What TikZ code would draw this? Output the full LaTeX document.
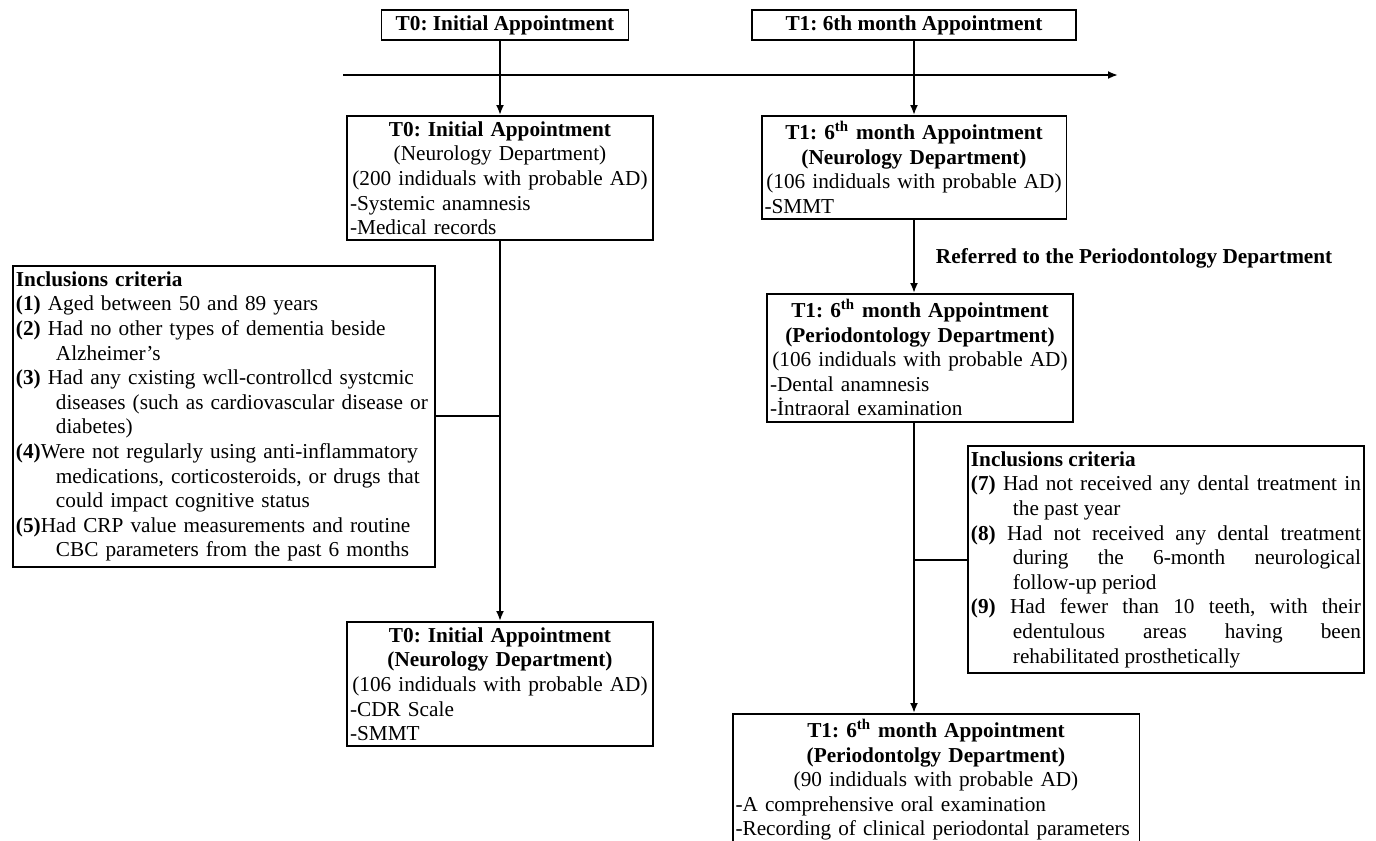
\documentclass[tikz,border=0pt]{standalone}
\usepackage{fontspec}
\setmainfont{Liberation Serif}
\usetikzlibrary{arrows.meta}
\newcommand{\ctrrow}[1]{\makebox[\linewidth][c]{#1}\par}
\newcommand{\lftrow}[1]{\makebox[\linewidth][l]{#1}\par}
\newcommand{\critnum}[1]{\par\hangindent=0.8cm\hangafter=1\noindent\textbf{(#1)}}
\newcommand{\critnumj}[1]{\par\hangindent=0.84cm\hangafter=1\noindent\textbf{(#1)}}
\begin{document}
\frenchspacing
\begin{tikzpicture}
    [
        x=0.02cm, y=-0.02cm,
        font=\fontsize{12.1}{14}\selectfont,
        line width=1.1pt,
        >={Latex[length=0.2cm,width=0.16cm]},
        stagebox/.style={rectangle, draw, font=\fontsize{12.1}{14}\selectfont\bfseries, minimum height=0.6cm, inner sep=0.06cm},
        visitbox/.style={rectangle, draw, anchor=north, inner xsep=0.06cm, inner ysep=0.11cm},
        critbox/.style={rectangle, draw, anchor=north west, inner xsep=0.06cm, inner ysep=0.11cm},
    ]
    \useasboundingbox (0,0) rectangle (1376,840);
    \node (top0) at (505,25) [stagebox, minimum width=4.94cm] {T0: Initial Appointment};
    \node (top1) at (914,25) [stagebox, minimum width=6.48cm] {T1: 6th month Appointment};
    \coordinate (tl0) at (343,75);
    \coordinate (tl1) at (1118,75);
    \node (neuroA) at (500,115) [visitbox, text width=6.0cm]
        {\ctrrow{\textbf{T0: Initial Appointment}}
         \ctrrow{(Neurology Department)}
         \ctrrow{(200 indiduals with probable AD)}
         \lftrow{-Systemic anamnesis}
         \lftrow{-Medical records}};
    \node (neuroB) at (914,115) [visitbox, text width=5.98cm]
        {\ctrrow{\textbf{T1: 6\textsuperscript{th} month Appointment}}
         \ctrrow{\textbf{(Neurology Department)}}
         \ctrrow{(106 indiduals with probable AD)}
         \lftrow{-SMMT}};
    \node (refer) at (935,258) [anchor=west, inner sep=0pt, font=\fontsize{12.1}{14}\selectfont\bfseries] {Referred to the Periodontology Department};
    \node (perioA) at (920,293) [visitbox, text width=6.0cm]
        {\ctrrow{\textbf{T1: 6\textsuperscript{th} month Appointment}}
         \ctrrow{\textbf{(Periodontology Department)}}
         \ctrrow{(106 indiduals with probable AD)}
         \lftrow{-Dental anamnesis}
         \lftrow{-İntraoral examination}};
    \node (critL) at (12,265) [critbox, text width=8.32cm]
        {\raggedright
         \textbf{Inclusions criteria}\par
         \critnum{1} Aged between 50 and 89 years\par
         \critnum{2} Had no other types of dementia beside\linebreak Alzheimer's\par
         \critnum{3} Had any cxisting wcll-controllcd systcmic\linebreak diseases (such as cardiovascular disease or\linebreak diabetes)\par
         \critnum{4}Were not regularly using anti-inflammatory\linebreak medications, corticosteroids, or drugs that\linebreak could impact cognitive status\par
         \critnum{5}Had CRP value measurements and routine\linebreak CBC parameters from the past 6 months\par};
    \node (critR) at (967,445) [critbox, text width=7.8cm, align=justify]
        {\tolerance=10000\hbadness=10000\hyphenpenalty=10000\exhyphenpenalty=10000
         \textbf{Inclusions criteria}\par
         \critnumj{7} Had not received any dental treatment in\linebreak the past year\par
         \critnumj{8} Had not received any dental treatment\linebreak during the 6-month neurological\linebreak follow-up period\par
         \critnumj{9} Had fewer than 10 teeth, with their\linebreak edentulous areas having been\linebreak rehabilitated prosthetically\par};
    \node (neuroC) at (500,621) [visitbox, text width=6.0cm]
        {\ctrrow{\textbf{T0: Initial Appointment}}
         \ctrrow{\textbf{(Neurology Department)}}
         \ctrrow{(106 indiduals with probable AD)}
         \lftrow{-CDR Scale}
         \lftrow{-SMMT}};
    \node (perioB) at (936,713) [visitbox, text width=8.02cm]
        {\ctrrow{\textbf{T1: 6\textsuperscript{th} month Appointment}}
         \ctrrow{\textbf{(Periodontolgy Department)}}
         \ctrrow{(90 indiduals with probable AD)}
         \lftrow{-A comprehensive oral examination}
         \lftrow{-Recording of clinical periodontal parameters}};
    \draw [->] (tl0) -- (tl1);
    \draw [->] (neuroA.north |- top0.south) -- (neuroA.north);
    \draw [->] (neuroB.north |- top1.south) -- (neuroB.north);
    \draw [->] (neuroA.south) -- (neuroC.north);
    \draw (critL.east) -- (critL.east -| neuroA.south);
    \draw [->] (neuroB.south) -- (neuroB.south |- perioA.north);
    \draw [->] (perioA.south -| neuroB.south) -- (perioB.north -| neuroB.south);
    \draw (critR.west) -- (critR.west -| neuroB.south);
\end{tikzpicture}
\end{document}
